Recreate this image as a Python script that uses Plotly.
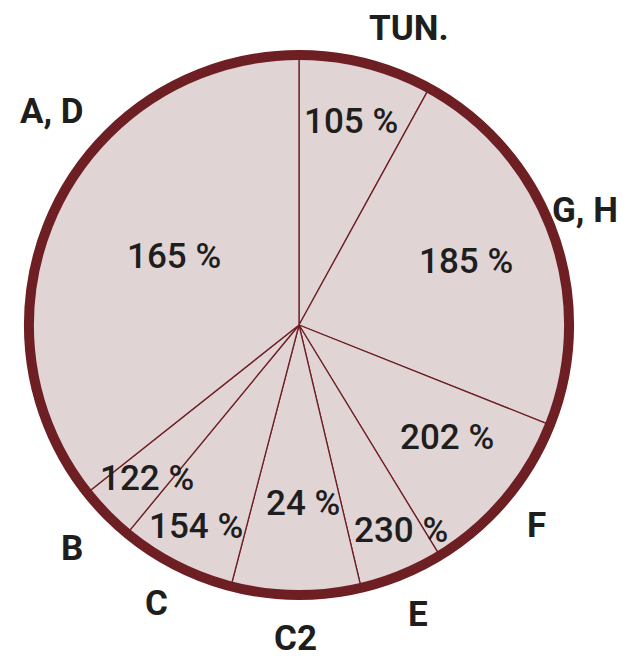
import numpy as np
import plotly.graph_objects as go

# slice order clockwise from 12 o'clock
labels = ["TUN.", "G, H", "F", "E", "C2", "C", "B", "A, D"]
shares = [28.8, 82.9, 36.9, 18.1, 27.9, 24.9, 12.1, 128.4]  # degrees of the circle
pct_text = ["105 %", "185 %", "202 %", "230 %", "24 %", "154 %", "122 %", "165 %"]

FILL = "#e0d4d4"
LINE = "#6e1f23"
INK = "#1e1e1e"

W, H = 624, 651
CX, CY, R = 291, H - 317, 270  # pie centre (px from left / bottom) and radius

# text placement (fraction of radius, angle nudge in degrees)
inner_r = [0.78, 0.66, 0.69, 0.85, 0.66, 0.84, 0.80, 0.53]
inner_nudge = [0, -1, -3, -4, -2, 0, -1, 3]
outer_r = [1.17, 1.14, 1.15, 1.16, 1.16, 1.16, 1.18, 1.21]
outer_nudge = [6, -2, 0, 0, 0, 0, 0, 15]

dom_x = [(CX - R) / W, (CX + R) / W]
dom_y = [(CY - R) / H, (CY + R) / H]

vals = np.array(shares)
mid = np.cumsum(vals) - vals / 2


def polar_to_paper(frac, deg):
    a = np.radians(deg)
    return (CX + frac * R * np.sin(a)) / W, (CY + frac * R * np.cos(a)) / H


fig = go.Figure()
fig.add_trace(go.Pie(
    labels=labels, values=shares, sort=False, direction="clockwise", rotation=0,
    marker=dict(colors=[FILL] * len(labels), line=dict(color=LINE, width=1.3)),
    textinfo="none", hoverinfo="label", showlegend=False,
    domain=dict(x=dom_x, y=dom_y),
))
# thick outer rim
fig.add_trace(go.Pie(
    labels=["rim"], values=[1], sort=False,
    marker=dict(colors=["rgba(0,0,0,0)"], line=dict(color=LINE, width=10)),
    textinfo="none", hoverinfo="skip", showlegend=False,
    domain=dict(x=dom_x, y=dom_y),
))

for i in range(len(labels)):
    x, y = polar_to_paper(inner_r[i], mid[i] + inner_nudge[i])
    fig.add_annotation(x=x, y=y, xref="paper", yref="paper", text=pct_text[i], showarrow=False,
                       xanchor="center", yanchor="middle",
                       font=dict(family="Roboto", size=35, color=INK, weight=500))
    x, y = polar_to_paper(outer_r[i], mid[i] + outer_nudge[i])
    fig.add_annotation(x=x, y=y, xref="paper", yref="paper", text=labels[i], showarrow=False,
                       xanchor="center", yanchor="middle",
                       font=dict(family="Roboto", size=35, color=INK, weight="bold"))

fig.update_layout(
    width=W, height=H,
    margin=dict(l=0, r=0, t=0, b=0),
    paper_bgcolor="white",
)

fig.write_html("out.html")
